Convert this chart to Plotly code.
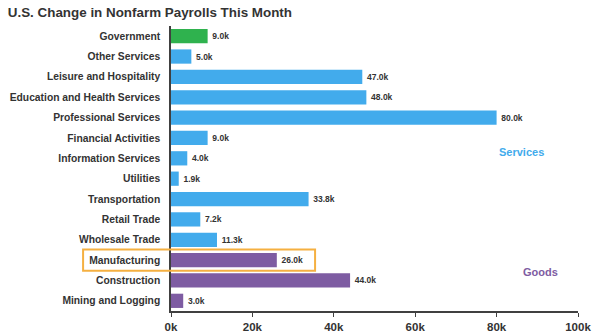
import plotly.graph_objects as go

categories = ["Government", "Other Services", "Leisure and Hospitality",
              "Education and Health Services", "Professional Services",
              "Financial Activities", "Information Services", "Utilities",
              "Transportation", "Retail Trade", "Wholesale Trade",
              "Manufacturing", "Construction", "Mining and Logging"]
values = [9.0, 5.0, 47.0, 48.0, 80.0, 9.0, 4.0, 1.9, 33.8, 7.2, 11.3, 26.0, 44.0, 3.0]
groups = ["Government"] + ["Services"] * 10 + ["Goods"] * 3
group_colors = {"Government": "#2FB24E", "Services": "#42ABEC", "Goods": "#7E5CA2"}
x_ticks = [0, 20, 40, 60, 80, 100]
x_labels = ["0k", "20k", "40k", "60k", "80k", "100k"]

colors = [group_colors[g] for g in groups]

fig = go.Figure(go.Bar(
    x=values, y=categories, orientation="h",
    marker=dict(color=colors, line=dict(width=0)),
    text=[f"\u2009{v:.1f}k" for v in values], textposition="outside",
    textfont=dict(family="Liberation Sans", size=8.5, color="#333333", weight="bold"),
    cliponaxis=False,
))

mi = categories.index("Manufacturing")
fig.add_shape(type="rect", xref="paper", yref="y",
              x0=-0.216, x1=0.354, y0=mi - 0.52, y1=mi + 0.52,
              line=dict(color="#F5B041", width=2), layer="above")

fig.add_annotation(text="<b>Services</b>", x=80, y=categories.index("Information Services") - 0.3,
                   xref="x", yref="y", xanchor="left", showarrow=False,
                   font=dict(family="Liberation Sans", size=11, color="#42ABEC"))
fig.add_annotation(text="<b>Goods</b>", x=86, y=mi + 0.6,
                   xref="x", yref="y", xanchor="left", showarrow=False,
                   font=dict(family="Liberation Sans", size=11, color="#7E5CA2"))

fig.update_layout(
    width=600, height=332,
    margin=dict(l=171, r=22, t=26, b=21, autoexpand=False),
    paper_bgcolor="white", plot_bgcolor="white",
    bargap=0.3,
    showlegend=False,
    title=dict(text="<b>U.S. Change in Nonfarm Payrolls This Month</b>",
               x=0.013, xanchor="left", y=0.963, yanchor="middle",
               font=dict(family="Liberation Sans", size=13.4, color="#333333")),
    xaxis=dict(range=[0, 100], tickvals=x_ticks, ticktext=x_labels, automargin=False,
               showgrid=False, zeroline=False, showline=True, linecolor="#404040",
               linewidth=1.5, ticks="outside", ticklen=4, tickcolor="#404040",
               tickfont=dict(family="Liberation Sans", size=11.5, color="#333333", weight="bold")),
    yaxis=dict(autorange="reversed", showgrid=False, zeroline=False, showline=True,
               automargin=False,
               linecolor="#404040", linewidth=1.5, ticks="", ticklabelstandoff=7,
               tickfont=dict(family="Liberation Sans", size=10.3, color="#333333", weight="bold")),
)

fig.write_html("out.html")
